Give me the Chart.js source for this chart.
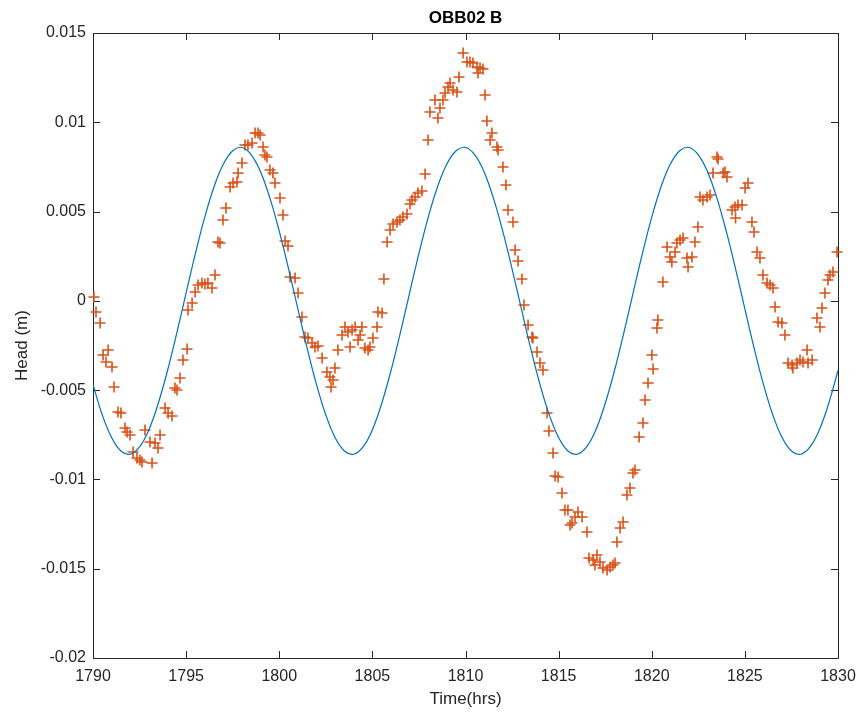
<!DOCTYPE html>
<html>
<head>
<meta charset="utf-8">
<script src="https://cdn.jsdelivr.net/npm/chart.js@4.4.0/dist/chart.umd.min.js"></script>
<style>
  html, body { margin: 0; padding: 0; background: #fff; }
</style>
</head>
<body>
<canvas id="myChart" width="862" height="719"></canvas>
<script>
const chartTitle = 'OBB02 B';

// measured head (orange +)
const scatterTime = [
  1790.05, 1790.16, 1790.38, 1790.54, 1790.70, 1790.81, 1791.02, 1791.13, 1791.34, 1791.50,
  1791.72, 1791.83, 1791.99, 1792.15, 1792.36, 1792.52, 1792.63, 1792.79, 1793.06, 1793.17,
  1793.33, 1793.49, 1793.60, 1793.87, 1794.03, 1794.24, 1794.40, 1794.51, 1794.67, 1794.83,
  1795.05, 1795.10, 1795.32, 1795.48, 1795.64, 1795.85, 1796.01, 1796.17, 1796.39, 1796.55,
  1796.71, 1796.82, 1796.98, 1797.14, 1797.36, 1797.52, 1797.73, 1797.79, 1798.00, 1798.16,
  1798.32, 1798.54, 1798.70, 1798.86, 1798.97, 1799.13, 1799.23, 1799.34, 1799.50, 1799.66,
  1799.77, 1800.04, 1800.20, 1800.31, 1800.47, 1800.58, 1800.85, 1801.01, 1801.22, 1801.38,
  1801.54, 1801.76, 1801.92, 1802.08, 1802.30, 1802.56, 1802.72, 1802.78, 1802.89, 1802.99,
  1803.15, 1803.37, 1803.53, 1803.69, 1803.80, 1803.91, 1804.07, 1804.23, 1804.34, 1804.44,
  1804.60, 1804.77, 1804.87, 1805.03, 1805.25, 1805.30, 1805.52, 1805.62, 1805.79, 1805.95,
  1806.11, 1806.32, 1806.48, 1806.64, 1806.86, 1807.02, 1807.13, 1807.29, 1807.45, 1807.66,
  1807.83, 1807.99, 1808.09, 1808.36, 1808.52, 1808.63, 1808.79, 1808.90, 1809.06, 1809.17,
  1809.33, 1809.54, 1809.65, 1809.87, 1810.08, 1810.24, 1810.40, 1810.62, 1810.67, 1810.78,
  1810.94, 1811.05, 1811.15, 1811.32, 1811.42, 1811.69, 1811.75, 1812.01, 1812.17, 1812.28,
  1812.55, 1812.66, 1812.82, 1813.03, 1813.14, 1813.36, 1813.57, 1813.62, 1813.84, 1814.00,
  1814.16, 1814.38, 1814.48, 1814.70, 1814.81, 1814.97, 1815.18, 1815.34, 1815.50, 1815.61,
  1815.72, 1815.88, 1816.04, 1816.26, 1816.52, 1816.63, 1816.85, 1816.95, 1817.06, 1817.22,
  1817.38, 1817.60, 1817.76, 1817.92, 1818.03, 1818.13, 1818.30, 1818.46, 1818.67, 1818.83,
  1818.99, 1819.10, 1819.32, 1819.53, 1819.64, 1819.80, 1820.01, 1820.07, 1820.28, 1820.33,
  1820.60, 1820.82, 1820.98, 1821.08, 1821.25, 1821.35, 1821.52, 1821.68, 1821.89, 1821.95,
  1822.16, 1822.32, 1822.48, 1822.59, 1822.75, 1822.97, 1823.13, 1823.29, 1823.50, 1823.56,
  1823.83, 1823.93, 1824.04, 1824.31, 1824.47, 1824.50, 1824.63, 1824.85, 1825.01, 1825.17,
  1825.38, 1825.49, 1825.65, 1825.81, 1825.97, 1826.19, 1826.35, 1826.51, 1826.62, 1826.78,
  1826.99, 1827.15, 1827.32, 1827.53, 1827.58, 1827.80, 1827.96, 1828.12, 1828.34, 1828.39,
  1828.61, 1828.87, 1829.03, 1829.14, 1829.30, 1829.46, 1829.57, 1829.73, 1829.95
];
const scatterHead = [
  0.00022, -0.00062, -0.00124, -0.00303, -0.00342, -0.00275, -0.00370, -0.00482, -0.00622, -0.00628,
  -0.00712, -0.00734, -0.00751, -0.00846, -0.00880, -0.00891, -0.00902, -0.00723, -0.00790, -0.00908,
  -0.00796, -0.00824, -0.00751, -0.00600, -0.00628, -0.00645, -0.00488, -0.00499, -0.00432, -0.00331,
  -0.00270, -0.00051, -0.00012, 0.00050, 0.00089, 0.00100, 0.00094, 0.00100, 0.00072, 0.00145,
  0.00330, 0.00324, 0.00453, 0.00520, 0.00638, 0.00660, 0.00666, 0.00716, 0.00772, 0.00873,
  0.00873, 0.00884, 0.00940, 0.00940, 0.00929, 0.00862, 0.00817, 0.00806, 0.00733, 0.00716,
  0.00660, 0.00576, 0.00481, 0.00335, 0.00307, 0.00134, 0.00128, 0.00044, -0.00090, -0.00202,
  -0.00208, -0.00236, -0.00258, -0.00253, -0.00320, -0.00398, -0.00426, -0.00482, -0.00443, -0.00376,
  -0.00275, -0.00191, -0.00146, -0.00174, -0.00258, -0.00163, -0.00146, -0.00219, -0.00191, -0.00146,
  -0.00264, -0.00275, -0.00258, -0.00208, -0.00146, -0.00062, -0.00068, 0.00122, 0.00330, 0.00397,
  0.00430, 0.00442, 0.00453, 0.00470, 0.00486, 0.00542, 0.00565, 0.00582, 0.00604, 0.00615,
  0.00710, 0.00901, 0.01058, 0.01125, 0.01024, 0.01080, 0.01125, 0.01164, 0.01198, 0.01220,
  0.01181, 0.01170, 0.01254, 0.01388, 0.01338, 0.01338, 0.01332, 0.01310, 0.01276, 0.01304,
  0.01298, 0.01153, 0.01007, 0.00901, 0.00940, 0.00862, 0.00845, 0.00750, 0.00649, 0.00509,
  0.00442, 0.00285, 0.00223, 0.00122, -0.00023, -0.00135, -0.00202, -0.00208, -0.00286, -0.00348,
  -0.00387, -0.00628, -0.00729, -0.00852, -0.00981, -0.00986, -0.01076, -0.01171, -0.01171, -0.01255,
  -0.01244, -0.01210, -0.01182, -0.01210, -0.01294, -0.01440, -0.01451, -0.01479, -0.01423, -0.01462,
  -0.01496, -0.01507, -0.01490, -0.01479, -0.01468, -0.01350, -0.01272, -0.01238, -0.01087, -0.01048,
  -0.00964, -0.00947, -0.00762, -0.00684, -0.00555, -0.00460, -0.00303, -0.00382, -0.00152, -0.00107,
  0.00106, 0.00302, 0.00246, 0.00218, 0.00274, 0.00324, 0.00341, 0.00352, 0.00240, 0.00190,
  0.00246, 0.00330, 0.00414, 0.00582, 0.00565, 0.00582, 0.00593, 0.00716, 0.00806, 0.00794,
  0.00716, 0.00722, 0.00694, 0.00509, 0.00526, 0.00464, 0.00537, 0.00537, 0.00632, 0.00660,
  0.00442, 0.00386, 0.00274, 0.00240, 0.00145, 0.00100, 0.00089, 0.00072, -0.00034, -0.00118,
  -0.00124, -0.00191, -0.00348, -0.00359, -0.00376, -0.00348, -0.00331, -0.00342, -0.00275, -0.00348,
  -0.00331, -0.00096, -0.00146, -0.00040, 0.00044, 0.00117, 0.00145, 0.00162, 0.00274
];

// modelled head (blue line), read every half hour
const curveTime = [
  1790, 1790.5, 1791, 1791.5, 1792, 1792.5, 1793, 1793.5, 1794, 1794.5,
  1795, 1795.5, 1796, 1796.5, 1797, 1797.5, 1798, 1798.5, 1799, 1799.5,
  1800, 1800.5, 1801, 1801.5, 1802, 1802.5, 1803, 1803.5, 1804, 1804.5,
  1805, 1805.5, 1806, 1806.5, 1807, 1807.5, 1808, 1808.5, 1809, 1809.5,
  1810, 1810.5, 1811, 1811.5, 1812, 1812.5, 1813, 1813.5, 1814, 1814.5,
  1815, 1815.5, 1816, 1816.5, 1817, 1817.5, 1818, 1818.5, 1819, 1819.5,
  1820, 1820.5, 1821, 1821.5, 1822, 1822.5, 1823, 1823.5, 1824, 1824.5,
  1825, 1825.5, 1826, 1826.5, 1827, 1827.5, 1828, 1828.5, 1829, 1829.5,
  1830
];
const curveHead = [
  -0.00469, -0.00639, -0.00766, -0.00841, -0.00859, -0.00818, -0.00722, -0.00575, -0.00390, -0.00179,
  0.00045, 0.00266, 0.00469, 0.00639, 0.00766, 0.00841, 0.00859, 0.00818, 0.00722, 0.00575,
  0.00390, 0.00179, -0.00045, -0.00266, -0.00469, -0.00639, -0.00766, -0.00841, -0.00859, -0.00818,
  -0.00722, -0.00575, -0.00390, -0.00179, 0.00045, 0.00266, 0.00469, 0.00639, 0.00766, 0.00841,
  0.00859, 0.00818, 0.00722, 0.00575, 0.00390, 0.00179, -0.00045, -0.00266, -0.00469, -0.00639,
  -0.00766, -0.00841, -0.00859, -0.00818, -0.00722, -0.00575, -0.00390, -0.00179, 0.00045, 0.00266,
  0.00469, 0.00639, 0.00766, 0.00841, 0.00859, 0.00818, 0.00722, 0.00575, 0.00390, 0.00179,
  -0.00045, -0.00266, -0.00469, -0.00639, -0.00766, -0.00841, -0.00859, -0.00818, -0.00722, -0.00575,
  -0.00390
];

const xTickValues = [1790, 1795, 1800, 1805, 1810, 1815, 1820, 1825, 1830];
const xTickLabels = ['1790', '1795', '1800', '1805', '1810', '1815', '1820', '1825', '1830'];
const yTickValues = [-0.02, -0.015, -0.01, -0.005, 0, 0.005, 0.01, 0.015];
const yTickLabels = ['-0.02', '-0.015', '-0.01', '-0.005', '0', '0.005', '0.01', '0.015'];

const axisColor = '#262626';
const fontFamily = '"Liberation Sans", Arial, Helvetica, sans-serif';

const labelFor = (values, labels) => (v) => {
  const k = values.findIndex(t => Math.abs(t - v) < 1e-9);
  return k >= 0 ? labels[k] : '';
};

// MATLAB style box, inward ticks and the title over the axes
const axesBox = {
  id: 'axesBox',
  beforeDatasetsDraw(chart) {
    const { ctx, chartArea: a, scales: { x, y } } = chart;
    const len = 7;
    ctx.save();
    ctx.strokeStyle = axisColor;
    ctx.lineWidth = 1;
    ctx.beginPath();
    ctx.rect(a.left + 0.5, a.top + 0.5, a.right - a.left, a.bottom - a.top);
    xTickValues.forEach(v => {
      const px = Math.round(x.getPixelForValue(v)) + 0.5;
      ctx.moveTo(px, a.bottom); ctx.lineTo(px, a.bottom - len);
      ctx.moveTo(px, a.top); ctx.lineTo(px, a.top + len);
    });
    yTickValues.forEach(v => {
      const py = Math.round(y.getPixelForValue(v)) + 0.5;
      ctx.moveTo(a.left, py); ctx.lineTo(a.left + len, py);
      ctx.moveTo(a.right, py); ctx.lineTo(a.right - len, py);
    });
    ctx.stroke();
    ctx.fillStyle = '#000';
    ctx.font = 'bold 17px ' + fontFamily;
    ctx.textAlign = 'center';
    ctx.textBaseline = 'alphabetic';
    ctx.fillText(chartTitle, (a.left + a.right) / 2, 23);
    ctx.restore();
  }
};

const ctx = document.getElementById('myChart').getContext('2d');
new Chart(ctx, {
  data: {
    datasets: [
      {
        type: 'line',
        label: 'Model',
        data: curveTime.map((t, i) => ({ x: t, y: curveHead[i] })),
        borderColor: '#0072BD',
        borderWidth: 1.2,
        pointRadius: 0,
        tension: 0.4,
        fill: false
      },
      {
        type: 'scatter',
        label: 'Observed',
        data: scatterTime.map((t, i) => ({ x: t, y: scatterHead[i] })),
        pointStyle: 'cross',
        pointRadius: 5.5,
        borderColor: '#D95319',
        backgroundColor: '#D95319',
        borderWidth: 1.6,
        clip: false
      }
    ]
  },
  options: {
    responsive: false,
    animation: false,
    devicePixelRatio: 1,
    layout: { padding: { top: 33, right: 24, bottom: 0, left: 0 } },
    plugins: {
      legend: { display: false },
      tooltip: { enabled: false }
    },
    scales: {
      x: {
        type: 'linear',
        position: 'bottom',
        min: 1790,
        max: 1830,
        afterFit: s => { s.height = 61; s.paddingLeft = 0; s.paddingRight = 0; },
        border: { display: false },
        grid: { display: false, drawTicks: false },
        ticks: {
          stepSize: 5,
          autoSkip: false,
          maxRotation: 0,
          padding: 9,
          color: axisColor,
          font: { family: fontFamily, size: 16 },
          callback: labelFor(xTickValues, xTickLabels)
        },
        title: {
          display: true,
          text: 'Time(hrs)',
          color: axisColor,
          font: { family: fontFamily, size: 17 },
          padding: { top: 0, bottom: 9 }
        }
      },
      y: {
        type: 'linear',
        min: -0.02,
        max: 0.015,
        afterFit: s => { s.width = 93; },
        border: { display: false },
        grid: { display: false, drawTicks: false },
        ticks: {
          stepSize: 0.005,
          autoSkip: false,
          padding: 7,
          color: axisColor,
          font: { family: fontFamily, size: 16 },
          callback: labelFor(yTickValues, yTickLabels)
        },
        title: {
          display: true,
          text: 'Head (m)',
          color: axisColor,
          font: { family: fontFamily, size: 17 },
          padding: { top: 12, bottom: 0 }
        }
      }
    }
  },
  plugins: [axesBox]
});
</script>
</body>
</html>
